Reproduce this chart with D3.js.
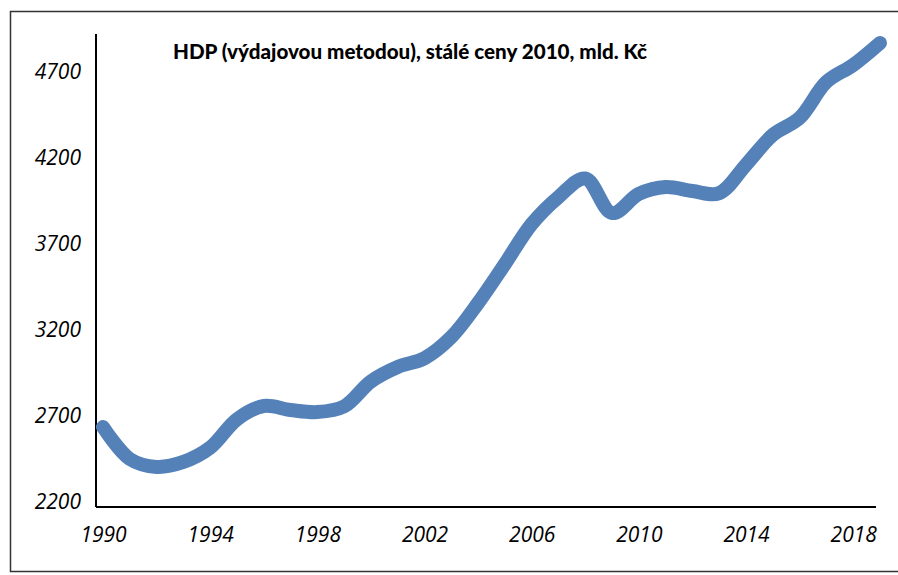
<!DOCTYPE html>
<html>
<head>
<meta charset="utf-8">
<script src="https://cdn.jsdelivr.net/npm/d3@7"></script>
<style>
  body { margin: 0; background: #fff; }
  svg { display: block; }
</style>
</head>
<body>
<div id="chart"></div>
<script>
// HDP (výdajovou metodou), stálé ceny 2010, mld. Kč
const years = [1990, 1991, 1992, 1993, 1994, 1995, 1996, 1997, 1998, 1999,
               2000, 2001, 2002, 2003, 2004, 2005, 2006, 2007, 2008, 2009,
               2010, 2011, 2012, 2013, 2014, 2015, 2016, 2017, 2018, 2019];
const gdp = [2665, 2479, 2433, 2462, 2545, 2710, 2787, 2764, 2752, 2785,
             2930, 3014, 3065, 3188, 3386, 3613, 3845, 4002, 4110, 3909,
             4020, 4060, 4037, 4025, 4190, 4363, 4462, 4671, 4770, 4898];
const yTicks = [2200, 2700, 3200, 3700, 4200, 4700];
const xTicks = [1990, 1994, 1998, 2002, 2006, 2010, 2014, 2018];
const title = "HDP (výdajovou metodou), stálé ceny 2010, mld. Kč";

const width = 898, height = 575;

const svg = d3.select("#chart").append("svg")
    .attr("width", width)
    .attr("height", height);

// outer frame (right side runs off the picture)
svg.append("rect")
    .attr("x", 10.5).attr("y", 11.5)
    .attr("width", 900).attr("height", 560)
    .attr("fill", "none")
    .attr("stroke", "#333")
    .attr("stroke-width", 1.5);

const x = d3.scaleLinear().domain([1990, 2019]).range([103, 880]);
const y = d3.scaleLinear().domain([2200, 4950]).range([507, 34]);

// title
svg.append("text")
    .attr("x", 410).attr("y", 59)
    .attr("text-anchor", "middle")
    .attr("font-family", "Lato, 'Open Sans', sans-serif")
    .attr("font-weight", 900)
    .attr("font-size", 21.5)
    .attr("textLength", 474)
    .attr("lengthAdjust", "spacingAndGlyphs")
    .text(title);

// y axis
const yAxis = svg.append("g")
    .attr("transform", "translate(81,0)")
    .call(d3.axisLeft(y).tickValues(yTicks).tickSize(0).tickPadding(0).tickFormat(d3.format("d")));
yAxis.select(".domain").remove();
yAxis.selectAll("text")
    .attr("dy", "0.32em")
    .attr("y", -5)
    .attr("font-family", "'Open Sans', sans-serif")
    .attr("font-style", "italic")
    .attr("font-size", 21)
    .attr("fill", "#000");

// x axis
const xAxis = svg.append("g")
    .attr("transform", "translate(0,527)")
    .call(d3.axisBottom(x).tickValues(xTicks).tickSize(0).tickPadding(0).tickFormat(d3.format("d")));
xAxis.select(".domain").remove();
xAxis.selectAll("text")
    .attr("dy", "0.71em")
    .attr("font-family", "'Open Sans', sans-serif")
    .attr("font-style", "italic")
    .attr("font-size", 21)
    .attr("fill", "#000");

// axis lines
svg.append("line")
    .attr("x1", 96).attr("x2", 96)
    .attr("y1", y.range()[1]).attr("y2", y(2200))
    .attr("stroke", "#000").attr("stroke-width", 2);
svg.append("line")
    .attr("x1", 96).attr("x2", 876)
    .attr("y1", y(2200)).attr("y2", y(2200))
    .attr("stroke", "#000").attr("stroke-width", 2);

// smoothed line
const line = d3.line()
    .x((d, i) => x(years[i]))
    .y(d => y(d))
    .curve(d3.curveCatmullRom.alpha(0.5));

svg.append("path")
    .datum(gdp)
    .attr("d", line)
    .attr("fill", "none")
    .attr("stroke", "#5581b9")
    .attr("stroke-width", 14)
    .attr("stroke-linecap", "round")
    .attr("stroke-linejoin", "round");
</script>
</body>
</html>
